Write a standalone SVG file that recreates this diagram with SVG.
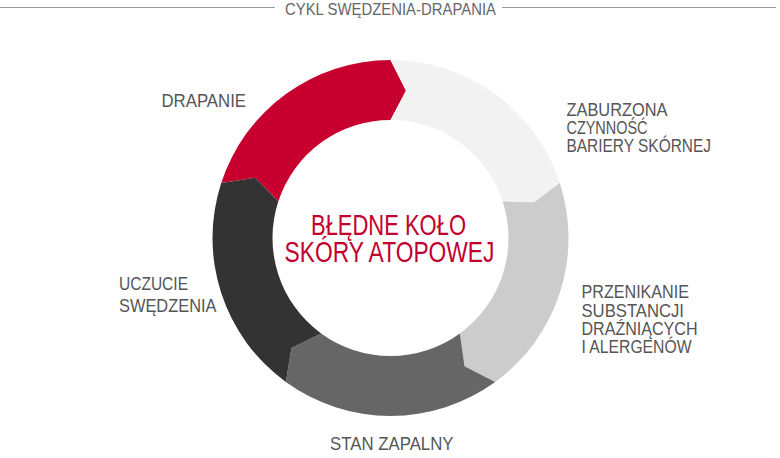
<svg xmlns="http://www.w3.org/2000/svg" width="780" height="458" viewBox="0 0 780 458">
<style>
.lbl{font-family:"Liberation Sans",Arial,sans-serif;font-size:19px;fill:#555555;}
.ttl{font-family:"Liberation Sans",Arial,sans-serif;font-size:16.5px;fill:#666666;}
.ctr{font-family:"Liberation Sans",Arial,sans-serif;font-size:29px;fill:#c2002f;}
.rule{stroke:#9a9a9a;stroke-width:1;fill:none;}
</style>
<rect width="780" height="458" fill="#ffffff"/>
<g id="title">
<line class="rule" x1="0" y1="7.5" x2="275" y2="7.5"/>
<line class="rule" x1="502" y1="7.5" x2="776" y2="7.5"/>
<text class="ttl" x="285" y="15" textLength="211" lengthAdjust="spacingAndGlyphs">CYKL SWĘDZENIA-DRAPANIA</text>
</g>
<g id="connectors"></g>
<g id="node-drapanie">
<path fill="#c8002f" d="M 221.21 182.99 A 178 178 0 0 1 390.5 60 L 405.97 90.81 L 390.5 120 A 118 118 0 0 0 278.27 201.54 L 255.29 177.8 Z"/>
<text class="lbl" x="161.5" y="106.7" textLength="84.5" lengthAdjust="spacingAndGlyphs">DRAPANIE</text>
</g>
<g id="node-bariera">
<path fill="#f2f2f2" d="M 390.5 60 A 178 178 0 0 1 559.79 182.99 L 534.1 202.2 L 502.73 201.54 A 118 118 0 0 0 390.5 120 L 405.97 90.81 Z"/>
<text class="lbl" x="566.5" y="116" textLength="101" lengthAdjust="spacingAndGlyphs">ZABURZONA</text>
<text class="lbl" x="566.5" y="133.8" textLength="81" lengthAdjust="spacingAndGlyphs">CZYNNOŚĆ</text>
<text class="lbl" x="566.5" y="151.6" textLength="144.5" lengthAdjust="spacingAndGlyphs">BARIERY SKÓRNEJ</text>
</g>
<g id="node-przenikanie">
<path fill="#cccccc" d="M 559.79 182.99 A 178 178 0 0 1 495.13 382.01 L 464.5 366.17 L 459.86 333.46 A 118 118 0 0 0 502.73 201.54 L 534.1 202.2 Z"/>
<text class="lbl" x="581.5" y="298.3" textLength="107.5" lengthAdjust="spacingAndGlyphs">PRZENIKANIE</text>
<text class="lbl" x="581.5" y="316.7" textLength="102.5" lengthAdjust="spacingAndGlyphs">SUBSTANCJI</text>
<text class="lbl" x="581.5" y="335" textLength="116" lengthAdjust="spacingAndGlyphs">DRAŹNIĄCYCH</text>
<text class="lbl" x="581.5" y="353.3" textLength="110" lengthAdjust="spacingAndGlyphs">I ALERGENÓW</text>
</g>
<g id="node-stan-zapalny">
<path fill="#666666" d="M 495.13 382.01 A 178 178 0 0 1 285.87 382.01 L 291.47 347.98 L 321.14 333.46 A 118 118 0 0 0 459.86 333.46 L 464.5 366.17 Z"/>
<text class="lbl" x="330" y="450" textLength="123.5" lengthAdjust="spacingAndGlyphs">STAN ZAPALNY</text>
</g>
<g id="node-swedzenie">
<path fill="#333333" d="M 285.87 382.01 A 178 178 0 0 1 221.21 182.99 L 255.29 177.8 L 278.27 201.54 A 118 118 0 0 0 321.14 333.46 L 291.47 347.98 Z"/>
<text class="lbl" x="119" y="290" textLength="69" lengthAdjust="spacingAndGlyphs">UCZUCIE</text>
<text class="lbl" x="119" y="312.3" textLength="97.5" lengthAdjust="spacingAndGlyphs">SWĘDZENIA</text>
</g>
<g id="node-center">
<text class="ctr" x="311" y="235" textLength="155" lengthAdjust="spacingAndGlyphs">BŁĘDNE KOŁO</text>
<text class="ctr" x="284.5" y="261.7" textLength="210" lengthAdjust="spacingAndGlyphs">SKÓRY ATOPOWEJ</text>
</g>
</svg>
